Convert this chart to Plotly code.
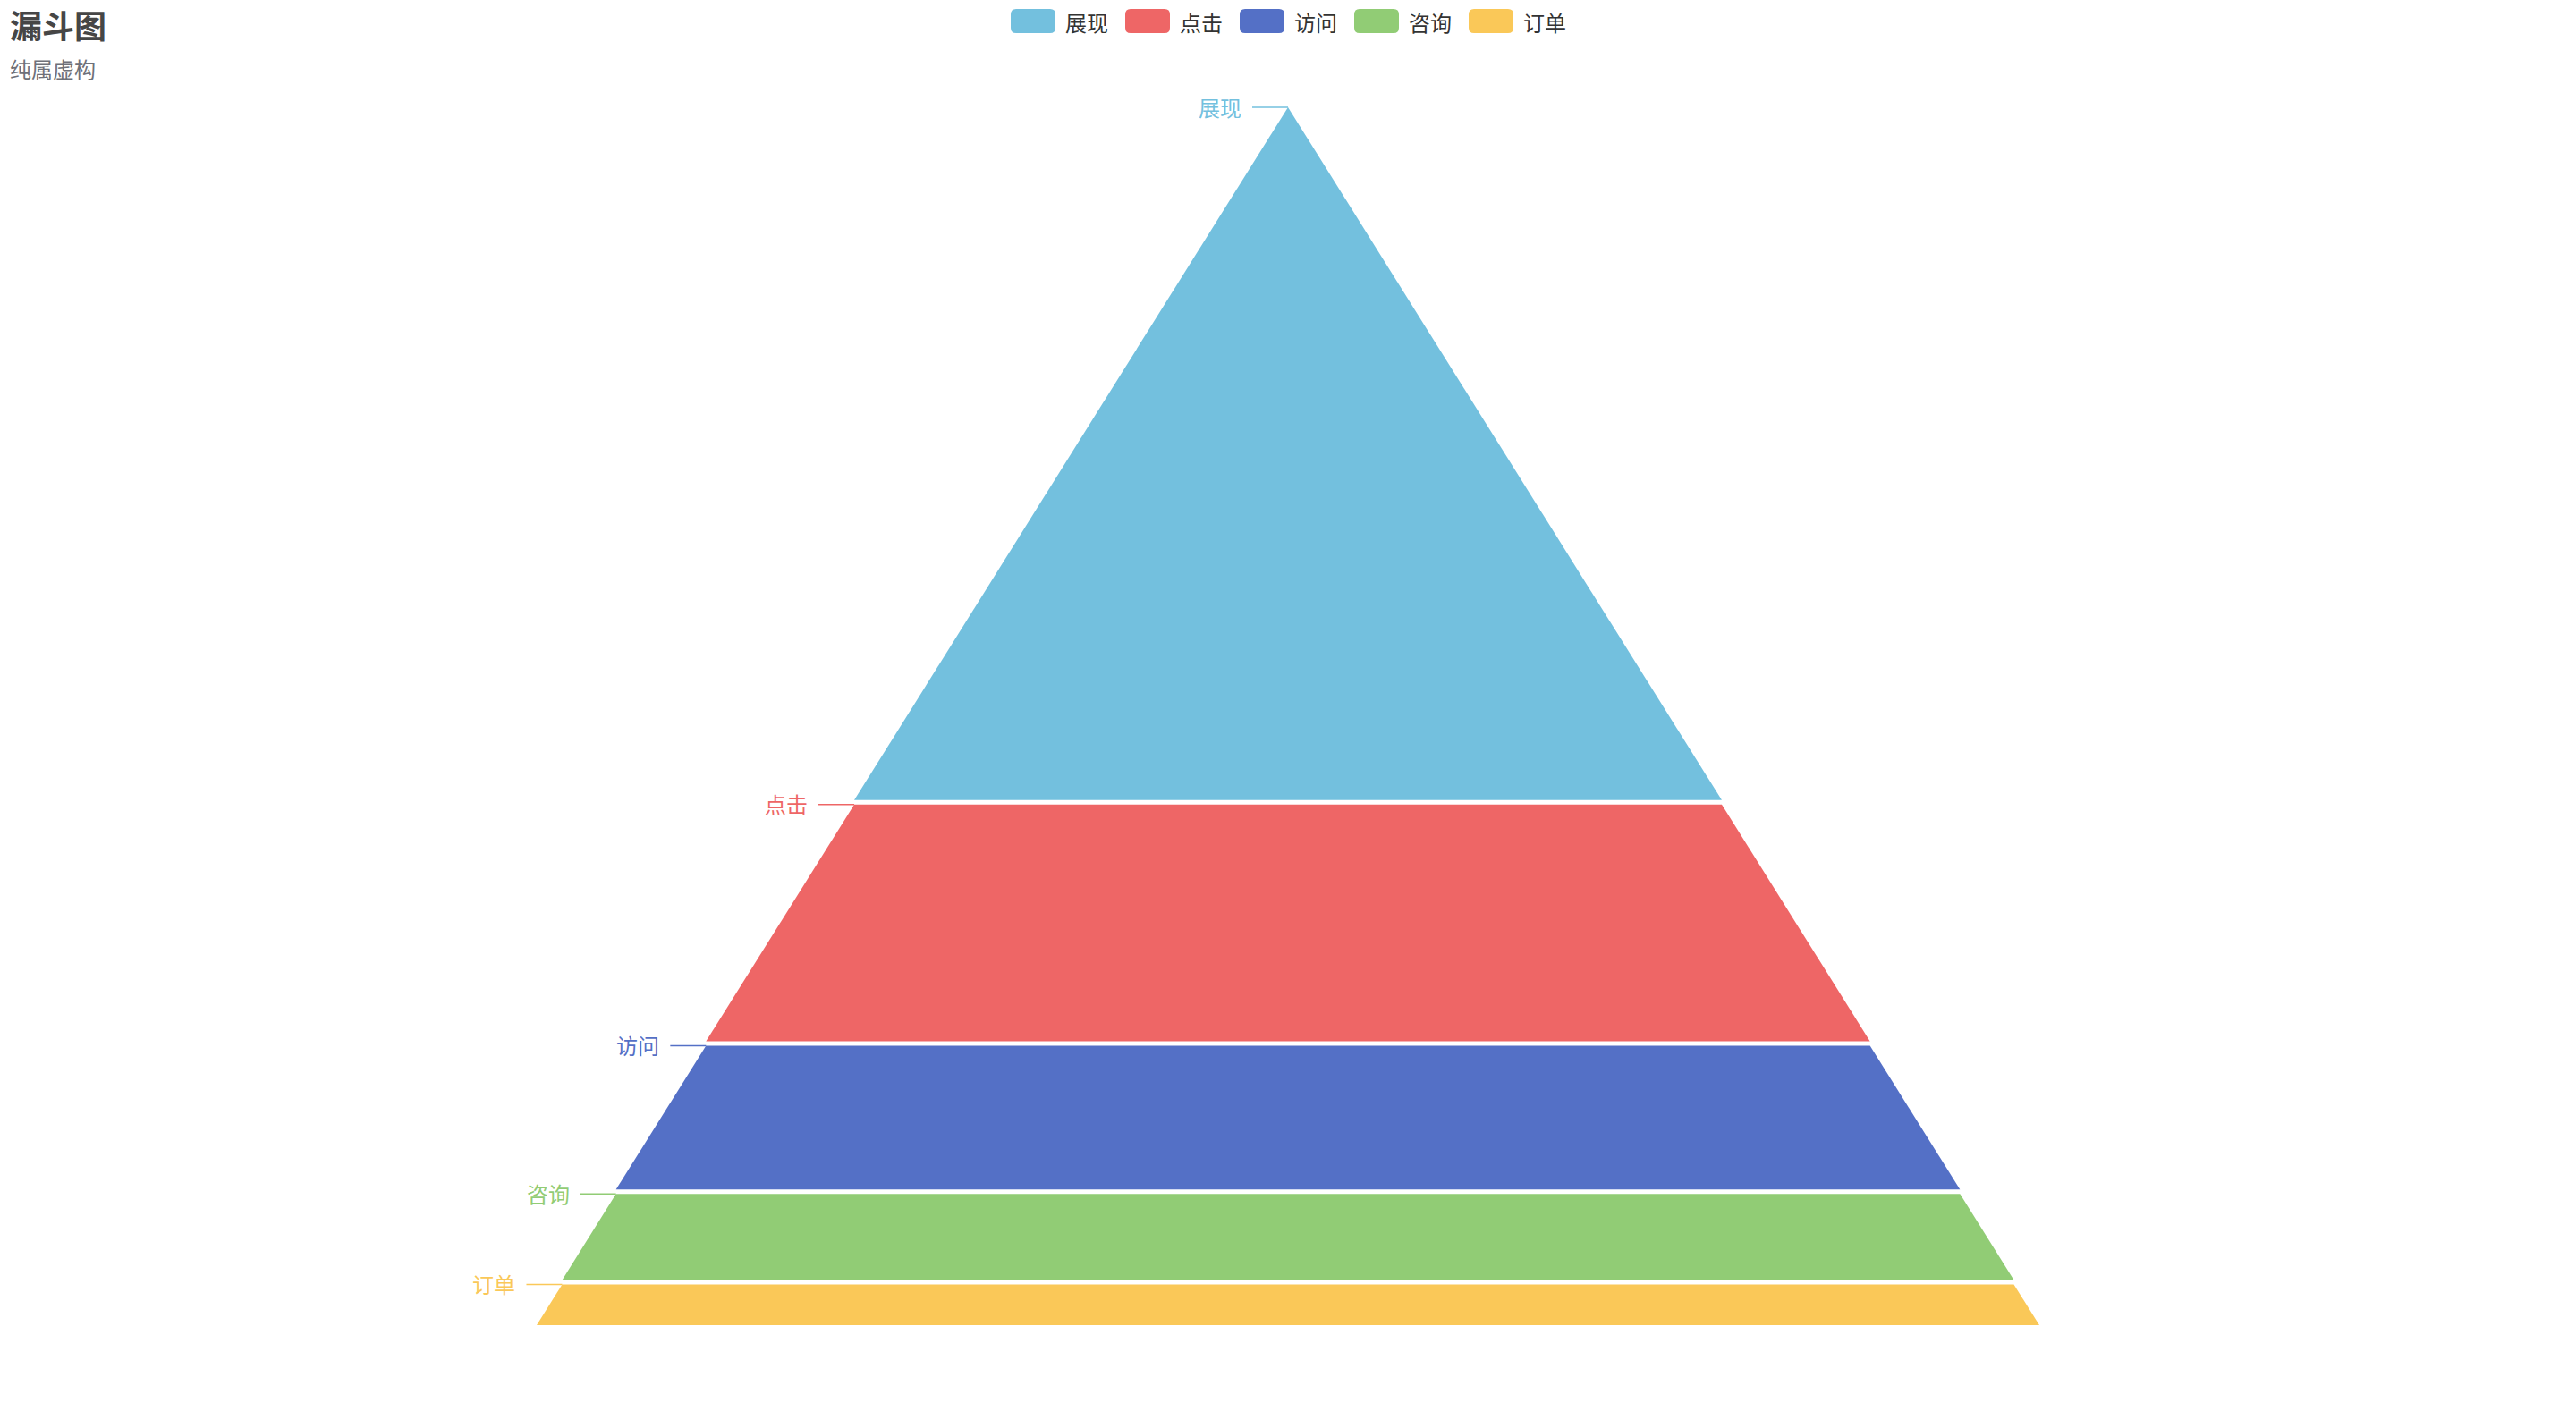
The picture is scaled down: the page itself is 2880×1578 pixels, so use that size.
import numpy as np
import plotly.graph_objects as go

W, H = 2880, 1578

categories = ["展现", "点击", "访问", "咨询", "订单"]
values = [100, 80, 60, 40, 20]
colors = ["#73c0de", "#ee6666", "#5470c6", "#91cc75", "#fac858"]
title_text = "漏斗图"
subtitle_text = "纯属虚构"

FONT = "Noto Sans CJK SC, Noto Sans, sans-serif"

# layout constants (pixels)
apex_x, apex_y = 1440, 120
base_half = 840.0
eff_h = 1342.0
gap_px = 5.0

g = gap_px / eff_h
xr = [-apex_x / base_half, (W - apex_x) / base_half]
yr = [(H - apex_y) / eff_h, -apex_y / eff_h]

fig = go.Figure()
total = float(sum(values))
cum = np.concatenate([[0.0], np.cumsum(values)]) / total
shapes = []
annotations = []

for i, (cat, val, col) in enumerate(zip(categories, values, colors)):
    t0 = np.sqrt(cum[i])
    t1 = np.sqrt(cum[i + 1])
    off = i * g
    xs = [-t0, t0, t1, -t1, -t0]
    ys = [t0 + off, t0 + off, t1 + off, t1 + off, t0 + off]
    fig.add_trace(go.Scatter(
        x=xs, y=ys, mode="lines", fill="toself", fillcolor=col,
        line=dict(width=0, color=col), name=cat, showlegend=False,
        hoverinfo="text", text=f"{cat}: {val}", hoveron="fills",
    ))
    ytop = t0 + off
    shapes.append(dict(type="line", xref="x", yref="y",
                       x0=-t0 - 40 / base_half, x1=-t0, y0=ytop, y1=ytop,
                       line=dict(color=col, width=1.5)))
    annotations.append(dict(xref="x", yref="y", x=-t0 - 50 / base_half, y=ytop - 1 / eff_h,
                            text=cat, showarrow=False, xanchor="right", yanchor="middle",
                            font=dict(family=FONT, size=24, color=col)))


def px(x):
    return x / W


def py(y):
    return 1 - y / H


# custom legend with rounded boxes
box_w, box_h, r = 50, 27, 6
leg_x0, leg_step, leg_y0 = 1130, 128, 10
for i, (cat, col) in enumerate(zip(categories, colors)):
    x0 = leg_x0 + i * leg_step
    x1 = x0 + box_w
    y0 = leg_y0
    y1 = y0 + box_h
    path = (f"M {px(x0 + r)},{py(y0)} L {px(x1 - r)},{py(y0)} Q {px(x1)},{py(y0)} {px(x1)},{py(y0 + r)} "
            f"L {px(x1)},{py(y1 - r)} Q {px(x1)},{py(y1)} {px(x1 - r)},{py(y1)} "
            f"L {px(x0 + r)},{py(y1)} Q {px(x0)},{py(y1)} {px(x0)},{py(y1 - r)} "
            f"L {px(x0)},{py(y0 + r)} Q {px(x0)},{py(y0)} {px(x0 + r)},{py(y0)} Z")
    shapes.append(dict(type="path", xref="paper", yref="paper", path=path,
                       fillcolor=col, line=dict(width=0)))
    annotations.append(dict(xref="paper", yref="paper", x=px(x0 + 59), y=py(y0 + box_h / 2 + 0.5),
                            text=cat, showarrow=False, xanchor="left", yanchor="middle",
                            font=dict(family=FONT, size=24, color="#333333")))

annotations.append(dict(xref="paper", yref="paper", x=px(9), y=py(27), text=f"<b>{title_text}</b>",
                        showarrow=False, xanchor="left", yanchor="middle",
                        font=dict(family=FONT, size=36, color="#464646")))
annotations.append(dict(xref="paper", yref="paper", x=px(9), y=py(77), text=subtitle_text,
                        showarrow=False, xanchor="left", yanchor="middle",
                        font=dict(family=FONT, size=24, color="#6e7079")))

fig.update_layout(
    width=W, height=H,
    margin=dict(l=0, r=0, t=0, b=0),
    paper_bgcolor="white", plot_bgcolor="white",
    xaxis=dict(range=xr, visible=False, fixedrange=True),
    yaxis=dict(range=yr, visible=False, fixedrange=True),
    shapes=shapes, annotations=annotations,
    showlegend=False,
    font=dict(family=FONT),
)

fig.write_html("out.html", config={"displayModeBar": False},
               post_script="document.body.style.margin='0';document.body.style.overflow='hidden';")
